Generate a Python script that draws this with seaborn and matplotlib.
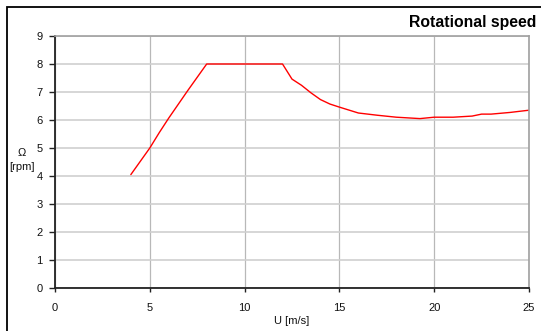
import matplotlib
matplotlib.use("Agg")
import matplotlib.pyplot as plt
from matplotlib.patches import Rectangle
import seaborn as sns
import pandas as pd

# Rotor speed versus wind speed
wind_speed = [4.0, 5.0, 5.5, 6.0, 7.0, 8.0, 9.0, 10.0, 11.0, 12.0, 12.5, 13.0, 13.5,
              14.0, 14.5, 15.0, 16.0, 17.0, 18.0, 19.0, 19.25, 20.0, 21.0, 22.0,
              22.5, 23.0, 24.0, 25.0]
rotor_speed = [4.05, 5.0, 5.55, 6.07, 7.05, 8.0, 8.0, 8.0, 8.0, 8.0, 7.46, 7.24, 6.97,
               6.73, 6.57, 6.46, 6.25, 6.17, 6.10, 6.06, 6.05, 6.10, 6.10, 6.14,
               6.21, 6.21, 6.27, 6.35]

x_ticks = [0, 5, 10, 15, 20, 25]
y_ticks = [0, 1, 2, 3, 4, 5, 6, 7, 8, 9]

df = pd.DataFrame({"U": wind_speed, "Omega": rotor_speed})

sns.set_theme(style="white")
plt.rcParams["font.family"] = ["Liberation Sans", "DejaVu Sans"]

fig = plt.figure(figsize=(5.41, 3.31), dpi=100)
W, H = 541, 331
ax = fig.add_axes([55 / W, 1 - 288 / H, (529 - 55) / W, (288 - 36) / H])

sns.lineplot(data=df, x="U", y="Omega", ax=ax, color="#ff0000", linewidth=1.0,
             estimator=None, sort=False)

ax.set_xlim(0, 25)
ax.set_ylim(0, 9)
ax.set_xticks(x_ticks)
ax.set_yticks(y_ticks)
ax.set_xticklabels([str(t) for t in x_ticks], fontsize=8, color="#111111")
ax.set_yticklabels([str(t) for t in y_ticks], fontsize=8, color="#111111")

ax.grid(True, axis="x", color="#b8b8b8", linewidth=0.9)
ax.grid(True, axis="y", color="#d0d0d0", linewidth=1.2)
ax.set_axisbelow(True)

for side in ("left", "bottom"):
    ax.spines[side].set_color("#222222")
    ax.spines[side].set_linewidth(1.3)
for side in ("top", "right"):
    ax.spines[side].set_color("#a0a0a0")
    ax.spines[side].set_linewidth(1.2)

ax.tick_params(axis="y", which="major", direction="out", length=4, width=1.0,
               color="#222222", pad=5, left=True)
ax.tick_params(axis="x", which="major", direction="out", length=3, width=1.0,
               color="#222222", pad=8, bottom=True)

ax.set_xlabel("U [m/s]", fontsize=8, color="#111111", labelpad=2)
ax.set_ylabel("")
fig.text(22 / W, 1 - 160 / H, "Ω\n[rpm]", fontsize=8, color="#111111",
         ha="center", va="center", linespacing=1.45)

fig.text(536 / W, 1 - 22 / H, "Rotational speed", fontsize=11.3, fontweight="bold",
         color="#000000", ha="right", va="center")

# Outer chart frame
fig.patches.append(Rectangle((7 / W, -0.1), 1.2, 1.1 - 7 / H,
                             transform=fig.transFigure, fill=False,
                             edgecolor="#000000", linewidth=1.3))

fig.savefig("out.png", dpi=100, facecolor="white")
